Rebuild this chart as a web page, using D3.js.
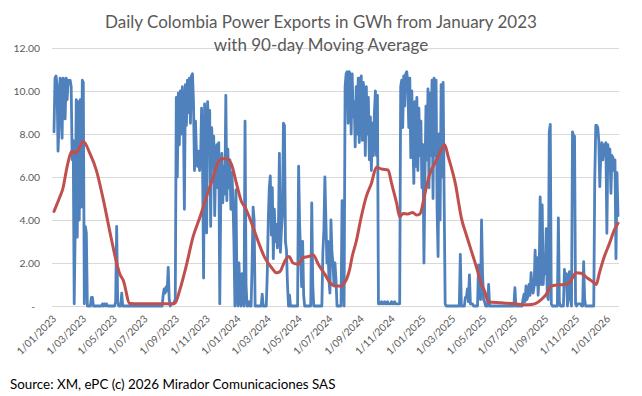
<!DOCTYPE html>
<html><head><meta charset="utf-8">
<script src="https://cdn.jsdelivr.net/npm/d3@7"></script>
<style>body{margin:0;background:#fff}svg{display:block}</style>
</head><body>
<svg id="c" width="642" height="396"></svg>
<script>
// ---------- DATA ----------
const startDate = "2023-01-01";
const stepDays = 2; // one reading every 2 days
const exportsGWh = [
 8.1,10.6,10.7,10.3,7.2,8.4,10.6,10.5,7.8,10.6,
 10.5,8.7,10.6,9.6,10.5,10.4,10.5,10.2,6.8,7.7,
 0.1,3.7,9.6,3.2,9.5,4.0,9.6,4.6,10.5,10.4,
 0.1,3.7,3.4,0,0,0,0,0.4,0.4,0,
 0,0,0,0,0,0,0,0,0.1,0,
 0.1,0,0.1,0,0,0,0,0,0,0,
 0,0.2,3.7,0.2,0,0,0,0.6,0,0,
 0,0,0,0,0,0,0,0,0,0,
 0,0,0,0,0,0,0,0,0,0,
 0,0,0,0,0,0,0,0,0,0,
 0,0,0,0,0,0,0,0,0.5,0.8,
 0.6,0.9,0.7,1.8,0.3,0,0.1,0.1,0.1,0.2,
 0.3,9.7,6.0,9.9,7.5,10.0,8.0,10.2,9.0,4.5,
 10.3,8.4,10.5,9.0,10.6,8.5,10.7,10.8,9.5,6.3,
 8.6,7.0,6.5,7.2,6.3,6.8,9.2,6.5,1.3,9.4,
 8.2,3.4,9.5,7.6,9.1,3.7,8.3,7.0,7.9,4.2,
 6.8,7.5,5.5,7.6,0.1,5.0,7.1,4.8,6.5,5.2,
 9.8,4.9,7.3,5.5,6.8,4.5,6.2,5.0,3.0,0,
 5.4,1.0,0,2.0,0.5,0,1.5,0.3,0,8.6,
 1.0,0,0,0.2,0,0,2.0,4.6,4.0,0,
 0,0,0,0,0,0,0.55,0,0,0,
 0,1.5,4.0,5.5,6.05,3.3,5.5,2.2,4.5,3.0,
 3.8,2.7,3.5,7.1,2.5,3.5,4.2,8.5,8.4,3.0,
 2.6,1.0,0,0.5,0,0,0,0,0,0,
 0,0,6.5,3.8,2.5,0.9,3.0,0.5,0,0,
 0,0,0,0,0,4.8,1.0,0,0,0,
 0,0,0,0,0,0,2.5,3.5,6.0,4.0,
 2.0,3.0,1.2,0.6,4.0,2.5,2.0,1.0,2.0,1.2,
 0,0,0,0,0,4.9,1.5,0,10.2,10.8,
 10.9,8.5,10.9,10.8,8.0,10.8,8.8,9.5,7.4,10.2,
 8.0,10.6,7.6,10.5,10.7,7.7,10.4,9.8,7.0,10.2,
 8.0,9.7,6.8,8.8,6.3,8.5,7.0,9.0,10.0,7.0,
 9.8,0.1,0.1,0.1,0.2,0.1,0.1,0.2,0.1,0.1,
 0.2,0.1,0.1,0.1,0.2,0.1,0.1,0.2,0.1,0.1,
 0.1,0.1,0.1,10.2,10.5,8.3,10.7,9.3,10.8,10.9,
 10.4,8.3,10.6,6.9,10.0,8.0,5.7,9.5,6.5,9.7,
 6.3,9.2,7.0,8.6,5.5,7.5,2.0,6.0,9.3,6.8,
 10.1,5.5,9.9,7.0,10.5,5.0,10.6,7.0,10.5,4.5,
 2.3,8.0,4.0,10.3,6.0,10.4,5.0,0.1,0,0,
 0,0,0,0,0,0,0,0,0,0,
 0,0,2.4,0,0,0,0,0.4,0.4,0.8,
 0.2,1.45,0.1,0.1,0.1,0,0,0,0,0,
 1.9,1.0,0.3,4.0,1.5,0.3,0.2,0,0,0,
 1.0,0,0,0,0,0,0,0,0,0,
 0,0,0,0,0,0,0,0,0,0,
 0,0,0,0,0,0,0.85,0,0,0,
 0,0,0,0,0.3,0.55,0.2,0.93,0.3,0.5,
 1.0,0.5,1.55,0.8,0.6,0.9,2.6,1.0,2.25,0.5,
 1.5,5.07,1.0,4.7,1.0,2.0,1.5,3.6,0.5,0.3,
 8.1,8.45,0.1,0,0,0,0,0,0,4.1,
 0.2,0,0,0,0,1.7,1.0,1.5,0,1.2,
 1.6,0.3,0,8.1,7.9,7.9,0.1,0,0.1,0.1,
 0.1,0.1,0,0,2.06,0.3,0,0,0,0,
 0,0,0,0,0,5.86,8.4,8.4,8.3,7.7,
 5.55,7.1,7.6,6.8,7.5,7.0,7.6,3.38,7.5,6.8,
 7.3,5.24,7.0,6.9,6.3,6.8,2.2,6.2,4.2
];
// 90-day moving average, read at these day offsets from startDate
const maDays = [0,12,18,22,28,35,43,50,58,71,84,98,111,124,130,137,150,170,200,236,240,249,262,275,289,302,315,325,333,341,351,361,371,378,391,404,417,430,440,447,457,465,473,483,493,503,513,523,536,546,556,569,575,579,585,590,598,608,618,628,638,648,661,668,678,684,691,700,710,717,724,734,743,757,767,773,780,789,795,800,806,816,826,836,846,852,859,885,911,938,951,964,974,984,997,1010,1020,1027,1033,1043,1056,1066,1073,1079,1089,1099,1109,1116];
const maValues = [4.4,5.1,5.5,6.0,6.7,7.2,7.1,7.35,7.65,7.1,6.3,4.9,3.4,2.0,1.5,1.2,0.12,0.1,0.1,0.1,0.15,0.75,1.9,3.2,4.15,5.1,6.0,6.7,6.85,6.85,6.6,5.7,4.85,4.6,3.85,3.0,2.25,1.8,1.55,1.6,2.1,2.3,2.0,1.94,2.25,2.3,2.37,1.94,1.47,1.09,0.93,0.93,1.09,1.25,1.7,2.3,3.0,4.15,5.1,5.7,6.45,6.37,6.33,5.7,4.78,4.15,4.3,4.28,4.35,4.23,4.28,5.24,6.1,6.8,7.3,7.5,6.95,6.2,5.6,4.9,4.1,3.3,2.55,1.8,1.0,0.7,0.2,0.15,0.1,0.06,0.1,0.3,0.54,0.93,0.98,1.0,1.08,1.36,1.55,1.52,1.29,1.13,1.0,1.52,2.3,2.9,3.55,3.85];
const yTicks = [0,2,4,6,8,10,12];
const xTickDates = ["2023-01-01","2023-03-01","2023-05-01","2023-07-01","2023-09-01","2023-11-01",
 "2024-01-01","2024-03-01","2024-05-01","2024-07-01","2024-09-01","2024-11-01",
 "2025-01-01","2025-03-01","2025-05-01","2025-07-01","2025-09-01","2025-11-01","2026-01-01"];
const titleLines = ["Daily Colombia Power Exports in GWh from January 2023","with 90-day Moving Average"];
const sourceText = "Source: XM, ePC (c) 2026 Mirador Comunicaciones SAS";

// ---------- CHART ----------
const FONT = "Lato, 'Open Sans', sans-serif";
const parse = d3.utcParse("%Y-%m-%d");
const t0 = parse(startDate);
const blue = exportsGWh.map((v,i)=>({date:d3.utcDay.offset(t0,i*stepDays), v}));
const ma = maDays.map((d,i)=>({date:d3.utcDay.offset(t0,d), v:maValues[i]}));

const svg = d3.select("#c");
const plotL = 52, plotR = 619;
const x = d3.scaleUtc().domain([t0, blue[blue.length-1].date]).range([54, 618]);
const y = d3.scaleLinear().domain([0,12]).range([306, 48]);

function fit(sel, target){
  const w = sel.node().getComputedTextLength();
  const fs = parseFloat(sel.attr("font-size"));
  sel.attr("font-size", fs*target/w);
  return fs*target/w;
}

// y axis + gridlines
const yg = svg.append("g").attr("transform",`translate(${plotL},0)`)
  .call(d3.axisLeft(y).tickValues(yTicks).tickSize(-(plotR-plotL)).tickPadding(12)
    .tickFormat(v => v===0 ? "-" : d3.format(".2f")(v)));
yg.select(".domain").remove();
yg.selectAll(".tick line").attr("stroke","#d9d9d9").attr("stroke-width",1).attr("shape-rendering","crispEdges");
const yt = yg.selectAll(".tick text").attr("font-family",FONT).attr("fill","#595959").attr("font-size",12);
const yfs = fit(yg.selectAll(".tick text").filter(d=>d===10), 26.5);
yt.attr("font-size", yfs);
yg.selectAll(".tick text").filter(d=>d===0).attr("dx",-5);

// x axis labels
const xg = svg.append("g").attr("transform","translate(0,306)")
  .call(d3.axisBottom(x).tickValues(xTickDates.map(parse)).tickSize(0)
    .tickFormat(d3.utcFormat("%-d/%m/%Y")));
xg.select(".domain").remove();
const xt = xg.selectAll(".tick text").attr("font-family",FONT).attr("fill","#595959").attr("font-size",12)
  .attr("x",0).attr("y",0).attr("dy","0.35em").attr("text-anchor","end")
  .attr("transform","translate(0,11) rotate(-45)");
const xfs = fit(xg.selectAll(".tick text").filter((d,i)=>i===0), 51);
xt.attr("font-size", xfs);

// series
svg.append("path").datum(blue)
  .attr("fill","none").attr("stroke","#4F81BD").attr("stroke-width",2.8)
  .attr("stroke-linejoin","round").attr("stroke-linecap","round")
  .attr("d", d3.line().x(d=>x(d.date)).y(d=>y(d.v)));
svg.append("path").datum(ma)
  .attr("fill","none").attr("stroke","#C0504D").attr("stroke-width",3)
  .attr("stroke-linejoin","round").attr("stroke-linecap","round")
  .attr("d", d3.line().curve(d3.curveMonotoneX).x(d=>x(d.date)).y(d=>y(d.v)));

// title
const tl = svg.append("g").attr("font-family",FONT).attr("fill","#595959").attr("text-anchor","middle");
const t1 = tl.append("text").attr("x",321).attr("y",27.5).attr("font-size",18).text(titleLines[0]);
const tfs = fit(t1, 432);
tl.append("text").attr("x",321).attr("y",51).attr("font-size",tfs).text(titleLines[1]);

// source
const src = svg.append("text").attr("x",10).attr("y",389).attr("font-family",FONT)
  .attr("fill","#000").attr("font-size",14).text(sourceText);
fit(src, 326);
</script>
</body></html>
